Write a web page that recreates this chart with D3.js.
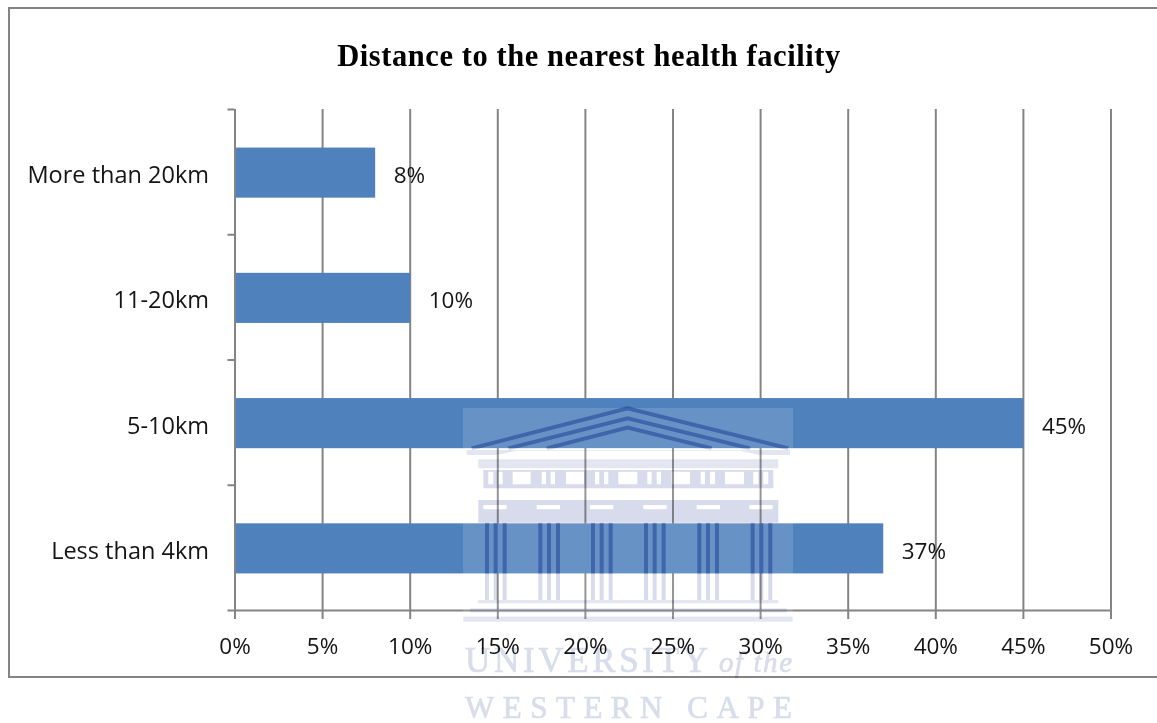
<!DOCTYPE html>
<html><head><meta charset="utf-8">
<script src="https://cdn.jsdelivr.net/npm/d3@7/dist/d3.min.js"></script>
<style>
html,body{margin:0;padding:0;background:#fff;overflow:hidden}
svg{display:block;filter:blur(.35px)}
text{font-family:"Open Sans",sans-serif;fill:#141414}
</style></head><body><svg id="c" width="1157" height="723"></svg>
<script>
const categories=["More than 20km","11-20km","5-10km","Less than 4km"];
const values=[8,10,45,37];
const xTicks=[0,5,10,15,20,25,30,35,40,45,50];
const title="Distance to the nearest health facility";
const wmLines=["UNIVERSITY","of the","WESTERN CAPE"];

// decorative watermark geometry, in 3x crop units
const wmWindows=[[145,15],[175,13],[218,54],[305,13],[332,13],[378,54],[465,13],[492,13],[535,57],[622,13],[650,13],[695,55],[782,13],[810,15],[855,57],[940,15],[970,15]];
const wmColumns=[135,295,453,612,772,932];
const wmCapitals=[130,290,450,610,770,928];
const wmBase=[[115,630,900,10],[90,655,950,12],[70,680,988,15]];

const svg=d3.select("#c");
const grey="#848484";
const x0=234.5,x1=1110.5,yTop=109,yBot=610;
const x=d3.scaleLinear().domain([0,50]).range([x0,x1]);
const y=d3.scaleBand().domain(categories).range([yTop+1,yBot+1]).paddingInner(.6).paddingOuter(.3);
const yEdge=d3.scaleLinear().domain([0,categories.length]).range([yTop,yBot]);

svg.append("rect").attr("x",9).attr("y",8).attr("width",1300).attr("height",669)
  .attr("fill","#fff").attr("stroke",grey).attr("stroke-width",2);
svg.append("text").attr("x",589).attr("y",65.5).attr("text-anchor","middle")
  .style("font-family","'Liberation Serif',serif").style("font-weight","700").style("font-size","30.5px")
  .style("letter-spacing",".57px").style("fill","#000").text(title);

const styleAxis=g=>{g.selectAll("line,path").attr("stroke",grey).attr("stroke-width",2);};
const gx=svg.append("g").attr("transform",`translate(0,${yBot})`)
  .call(d3.axisBottom(x).tickValues(xTicks).tickSize(9).tickFormat(d=>d+"%").tickSizeOuter(0));
gx.call(styleAxis);
gx.selectAll(".tick").append("line").attr("y1",0).attr("y2",yTop-yBot).attr("stroke",grey).attr("stroke-width",2);
gx.selectAll("text").attr("y",28).attr("dy",".71em").style("font-size","22.5px").style("font-family","'Open Sans',sans-serif").attr("fill","#141414");
const gy=svg.append("g").attr("transform",`translate(${x0},0)`)
  .call(d3.axisLeft(yEdge).tickValues(d3.range(categories.length+1)).tickSize(7).tickFormat("").tickSizeOuter(0));
gy.call(styleAxis);
svg.append("g").selectAll("text").data(categories).join("text")
  .attr("x",209).attr("y",d=>y(d)+y.bandwidth()/2+10.5).attr("text-anchor","end")
  .style("font-size","23.5px").text(d=>d);
svg.append("g").selectAll("rect").data(values).join("rect")
  .attr("x",x(0)+1.5).attr("y",(d,i)=>y(categories[i])).attr("width",d=>x(d)-x(0)-1)
  .attr("height",y.bandwidth()).attr("fill","#4f81bd");
svg.append("g").selectAll("text").data(values).join("text")
  .attr("x",d=>x(d)+19).attr("y",(d,i)=>y(categories[i])+y.bandwidth()/2+10.5)
  .style("font-size","22.5px").text(d=>d+"%");

const defs=svg.append("defs");
const clip=defs.append("clipPath").attr("id","onbars");
clip.selectAll("rect").data(values).join("rect")
  .attr("x",x(0)).attr("y",(d,i)=>y(categories[i])).attr("width",d=>x(d)-x(0)).attr("height",y.bandwidth());
const sym=defs.append("g").attr("id","temple").attr("transform","translate(440,390) scale(.3333)");
sym.append("path").attr("d","M80 180H1050V195H960L900 182H230L170 195H80ZM115 208H1015V235H115Z").attr("fill-opacity",.7).attr("stroke","none");
sym.append("path").attr("d","M95 175L563 55L1045 175").attr("fill","none").attr("stroke-width",12);
sym.append("path").attr("d","M205 175L563 85L930 175").attr("fill","none").attr("stroke-width",12);
sym.append("path").attr("d","M320 175L563 113L815 175").attr("fill","none").attr("stroke-width",12);
sym.append("path").attr("fill-rule","evenodd").attr("stroke","none")
  .attr("d","M130 240H1000V295H130Z"+wmWindows.map(([a,w])=>`M${a} 245h${w}v38h${-w}Z`).join(""));
sym.append("path").attr("fill-rule","evenodd").attr("stroke","none")
  .attr("d","M115 330H1015V398H115Z"+wmCapitals.map(a=>`M${a} 345h70v13h-70Z`).join(""));
wmColumns.forEach(c=>{[0,26,53].forEach(o=>sym.append("rect").attr("stroke","none").attr("x",c+o).attr("y",372).attr("width",12).attr("height",258));});
wmBase.forEach(([a,b,w,h])=>sym.append("rect").attr("stroke","none").attr("x",a).attr("y",b).attr("width",w).attr("height",h).attr("fill-opacity",.7));

const wm=svg.append("g").style("pointer-events","none");
wm.append("rect").attr("x",463).attr("y",408).attr("width",330).attr("height",215).attr("fill","#fff").attr("fill-opacity",.14);
wm.append("use").attr("href","#temple").attr("fill","#d7dbeb").attr("stroke","#d7dbeb").style("mix-blend-mode","multiply");
wm.append("use").attr("href","#temple").attr("fill","#b8d0f0").attr("stroke","#b8d0f0").attr("clip-path","url(#onbars)").style("mix-blend-mode","multiply");
const serif=t=>t.style("font-family","'Liberation Serif',serif").style("fill","#d9ddeb").style("stroke","#d9ddeb").style("stroke-width",".7px").style("mix-blend-mode","multiply");
wm.append("text").attr("x",465).attr("y",672).call(serif).style("font-size","35px").attr("textLength",243).text(wmLines[0]);
wm.append("text").attr("x",719).attr("y",672).call(serif).style("font-size","29px").style("font-style","italic").attr("textLength",73).text(wmLines[1]);
wm.append("text").attr("x",465).attr("y",718).call(serif).style("font-size","31px").attr("textLength",327).text(wmLines[2]);
</script></body></html>
